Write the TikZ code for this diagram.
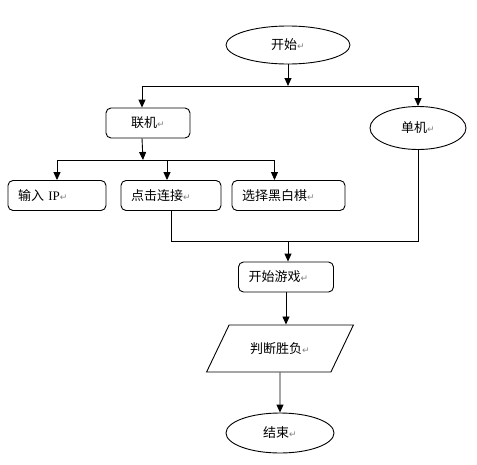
\documentclass[tikz,border=0pt]{standalone}
\usepackage{fontspec}
\setmainfont{Liberation Serif}
\newfontfamily\cjk{Noto Sans CJK SC}
\newfontfamily\symfont{DejaVu Sans}
\usetikzlibrary{shapes.geometric, arrows.meta}
\newcommand{\parmark}{{\color{gray}\symfont\fontsize{9}{9}\selectfont ↵}}

\begin{document}
\begin{tikzpicture}[
        x=1pt, y=-1pt, line width=0.9pt,
        every node/.style={font=\cjk\fontsize{13}{15}\selectfont},
        box/.style={rectangle, draw, rounded corners=5pt, minimum height=30pt, inner xsep=10pt, align=left},
        oval/.style={ellipse, draw, inner sep=0pt},
        slanted/.style={trapezium, trapezium left angle=52, trapezium right angle=128, trapezium stretches=true, draw, minimum width=148pt, minimum height=47pt},
        arrow/.style={-{Triangle[length=8pt, width=7pt]}}
        ]
        \useasboundingbox (0,0) rectangle (477,464);

        \node[oval, minimum width=124pt, minimum height=38pt] (start) at (288,45) {开始\parmark};
        \node[box, text width=64pt, align=center] (online) at (148,123) {联机\parmark};
        \node[oval, minimum width=96pt, minimum height=43pt] (single) at (418,128) {单机\parmark};
        \node[box, text width=78pt] (ip) at (57,195.5) {输入 {\rmfamily IP}\parmark};
        \node[box, text width=80pt] (connect) at (171,195.5) {点击连接\parmark};
        \node[box, text width=93pt] (select) at (288.5,195.5) {选择黑白棋\parmark};
        \node[box, text width=75pt] (game) at (286,277) {开始游戏\parmark};
        \node[slanted] (judge) at (280,348.5) {判断胜负\parmark\hspace{10pt}};
        \node[oval, minimum width=108pt, minimum height=40pt] (end) at (280,433) {结束\parmark};

        \coordinate (split) at (288,86);
        \coordinate (fork) at (143,160);
        \coordinate (join) at (288,241);

        \draw[arrow] (start) -- (split);
        \draw[arrow] (split) -| ([xshift=-6pt]online.north);
        \draw[arrow] (split) -| (single);
        \draw[arrow] ([xshift=-6pt]online.south) -- (fork);
        \draw[arrow] (fork) -| (ip);
        \draw[arrow] (fork) -| ([xshift=-4pt]connect.north);
        \draw[arrow] (fork) -| ([xshift=-14pt]select.north);
        \draw (connect) |- (join);
        \draw (single) |- (join);
        \draw[arrow] (join) -- (join |- game.north);
        \draw[arrow] (game.south) -- (game.south |- judge.north);
        \draw[arrow] (judge.south) -- (end.north);
    \end{tikzpicture}
\end{document}
